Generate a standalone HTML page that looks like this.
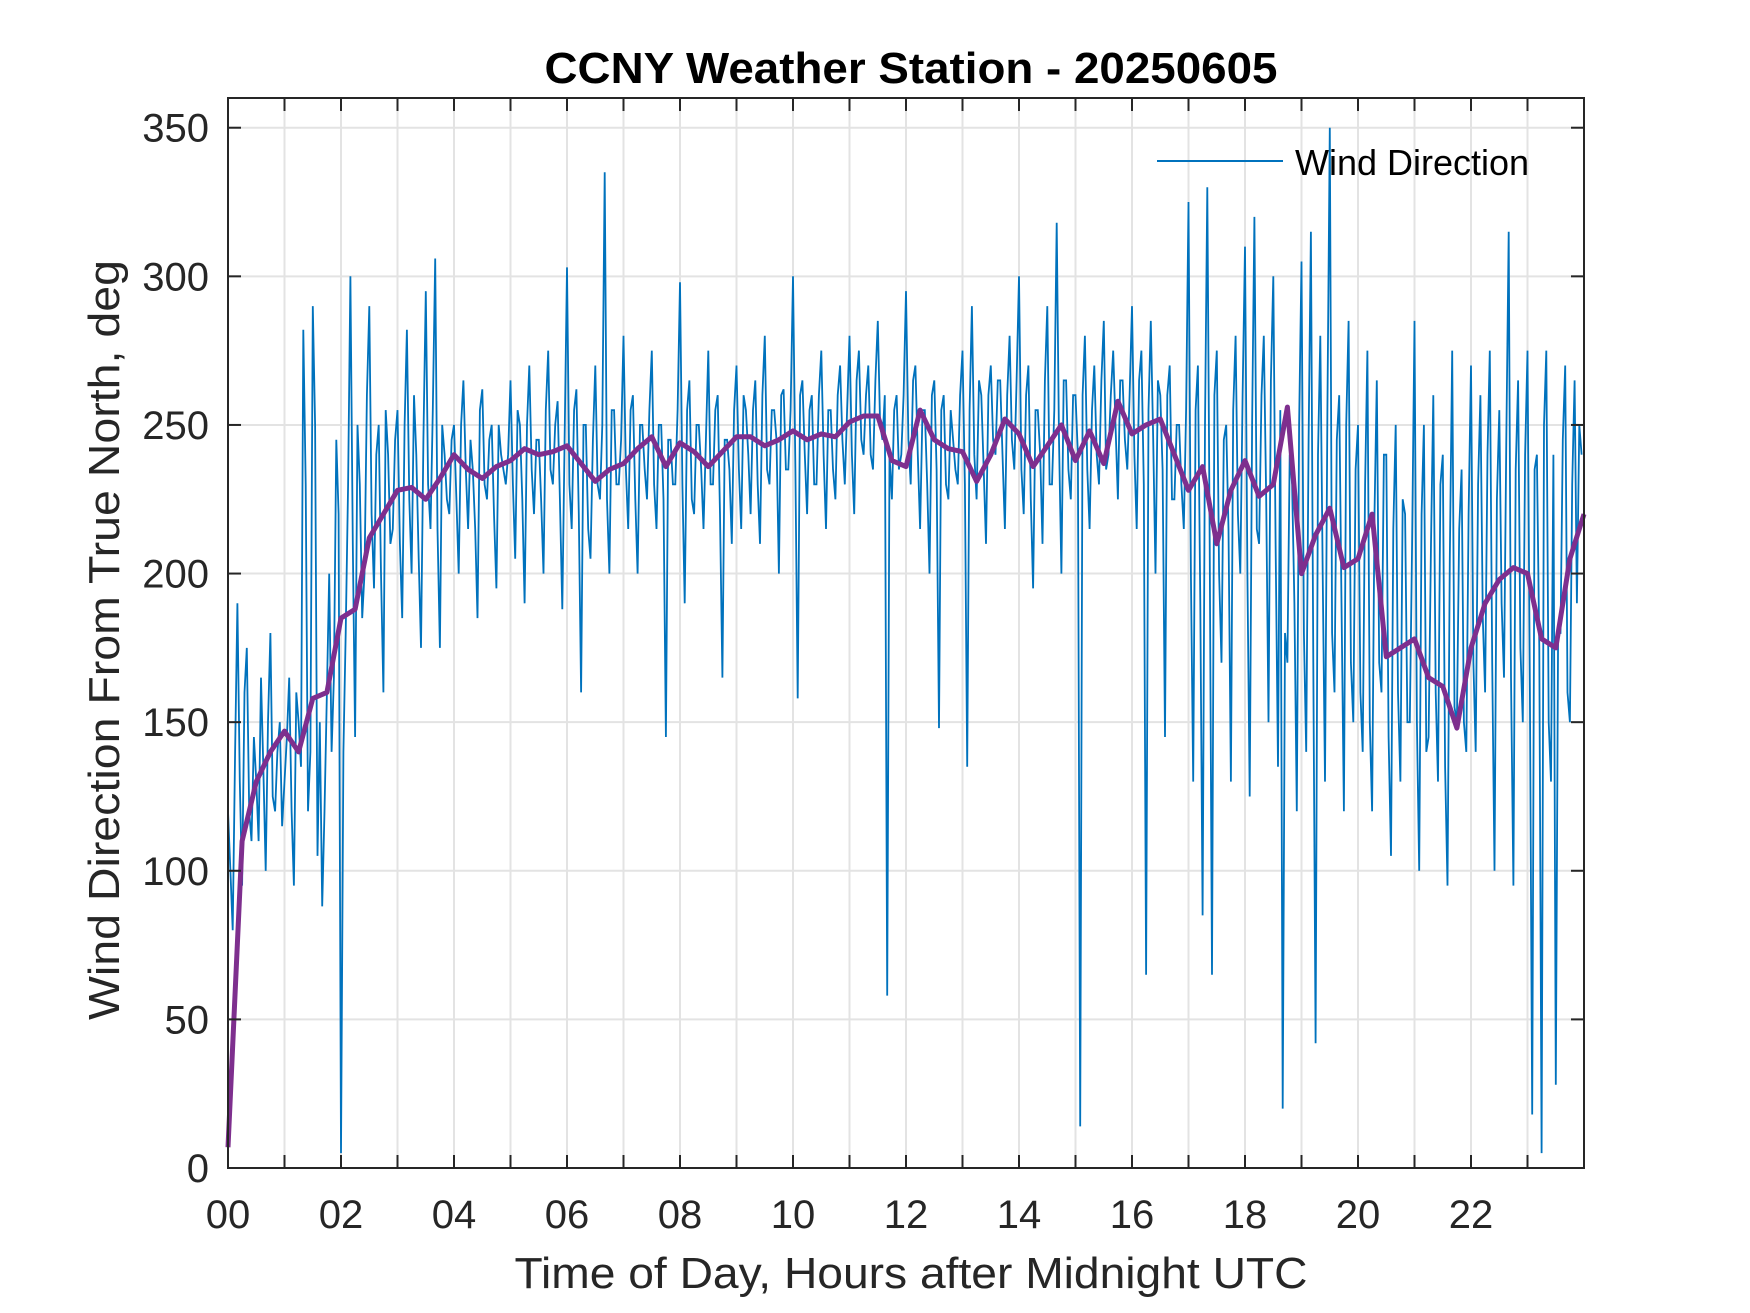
<!DOCTYPE html>
<html>
<head>
<meta charset="utf-8">
<style>
html,body{margin:0;padding:0;background:#fff;}
svg{display:block;font-family:"Liberation Sans",Arial,sans-serif;}
</style>
</head>
<body>
<svg id="chart" width="1750" height="1313" viewBox="0 0 1750 1313" xmlns="http://www.w3.org/2000/svg">
  <rect x="0" y="0" width="1750" height="1313" fill="#ffffff"/>
  <text x="911" y="83" text-anchor="middle" font-size="44" font-weight="bold" fill="#000" textLength="733" lengthAdjust="spacingAndGlyphs">CCNY Weather Station - 20250605</text>
  <g id="grid"></g>
  <g id="series"></g>
  <g id="axes"></g>
  <text x="911" y="1288" text-anchor="middle" font-size="44" fill="#262626" textLength="793" lengthAdjust="spacingAndGlyphs">Time of Day, Hours after Midnight UTC</text>
  <text transform="translate(119,640) rotate(-90)" text-anchor="middle" font-size="44" fill="#262626" textLength="760" lengthAdjust="spacingAndGlyphs">Wind Direction From True North, deg</text>
  <g>
    <line x1="1157" y1="161" x2="1283" y2="161" stroke="#0072BD" stroke-width="2"/>
    <text x="1295" y="175" font-size="36" fill="#000">Wind Direction</text>
  </g>
</svg>
<script>
// 5-minute samples of wind direction (deg), 12 per hour, on the 5-minute mark
const windDir = [
120,80,190,95,175,110,130,165,100,180,120,150,
130,165,95,150,282,120,290,105,88,160,140,245,
5,180,300,145,230,200,290,195,250,160,240,215,
255,185,282,200,240,175,295,215,306,175,240,220,
250,200,265,215,235,185,262,225,250,195,240,230,
265,205,250,190,270,220,245,200,275,230,258,188,
303,215,262,160,250,205,270,225,335,200,255,230,
280,215,260,200,250,225,275,215,250,145,245,230,
298,190,265,220,250,215,275,230,260,165,245,210,
270,215,255,220,265,210,280,230,255,200,262,235,
300,158,265,220,260,230,275,215,255,225,270,230,
280,220,275,240,270,235,285,245,58,225,260,240,
295,230,270,215,255,200,265,148,260,225,245,230,
275,135,290,225,260,210,270,240,265,215,280,235,
300,220,270,195,255,210,290,230,318,200,265,225,
260,14,280,215,270,230,285,240,275,225,265,235,
290,215,275,65,285,200,260,145,270,225,250,215,
325,130,270,85,330,65,275,170,250,130,280,200,
310,125,320,210,280,150,300,135,20,170,230,120,
305,140,315,42,280,130,350,160,260,120,285,150,
250,140,275,120,265,160,240,105,250,130,220,150,
285,100,250,145,260,130,240,95,275,150,235,140,
270,140,260,160,275,100,255,165,315,95,265,150,
275,18,240,5,275,130,28,180,270,150,265,250
];
// samples halfway between the 5-minute marks (deg)
const windDirMid = [
100,140,130,160,120,145,110,135,150,125,140,115,
145,120,160,135,230,140,250,150,120,200,165,220,
140,230,210,250,185,260,220,240,200,255,210,245,
210,250,225,260,205,245,230,255,215,250,225,245,
225,250,235,245,215,255,230,245,220,250,235,240,
230,255,225,250,235,245,225,255,235,250,225,245,
230,255,220,250,215,245,230,250,225,255,230,245,
235,255,225,250,235,255,230,250,225,245,230,255,
230,255,225,250,235,245,230,255,220,245,235,255,
235,260,240,255,230,260,235,255,245,260,235,255,
235,260,240,255,230,260,240,255,235,260,245,255,
240,265,245,260,240,265,250,260,240,255,235,260,
245,265,240,255,230,260,235,255,230,255,235,260,
230,255,240,265,235,260,245,265,240,260,245,265,
235,260,225,255,240,265,230,255,245,265,235,260,
240,260,235,255,240,265,235,260,250,265,245,260,
240,265,230,255,245,265,235,260,225,250,230,255,
200,255,190,250,210,260,200,245,215,255,220,260,
200,250,215,260,225,265,210,255,180,240,190,250,
180,245,170,240,200,255,180,245,190,250,170,235,
160,230,150,220,170,240,145,215,160,225,150,210,
150,220,140,210,160,230,135,205,155,215,150,220,
170,230,185,240,170,225,190,245,165,235,175,240,
160,235,175,250,150,240,180,245,160,230,190,240
];
const samplesPerHour = 12;
// 15-minute moving average (deg), 4 per hour, 0..24 h
const windAvg = [
7,110,130,140,
147,140,158,160,
185,188,212,220,
228,229,225,232,
240,235,232,236,
238,242,240,241,
243,237,231,235,
237,242,246,236,
244,241,236,241,
246,246,243,245,
248,245,247,246,
251,253,253,238,
236,255,245,242,
241,231,240,252,
247,236,243,250,
238,248,237,258,
247,250,252,240,
228,236,210,228,
238,226,230,256,
200,213,222,202,
205,220,172,175,
178,165,162,148,
175,190,198,202,
200,178,175,205,
220
];
const avgPerHour = 4;
const xTicks = [0,2,4,6,8,10,12,14,16,18,20,22];
const xTickLabels = ["00","02","04","06","08","10","12","14","16","18","20","22"];
const yTicks = [0,50,100,150,200,250,300,350];
const yTickLabels = ["0","50","100","150","200","250","300","350"];

const L=228,R=1584,T=98,B=1168;
const xMax=24,yMax=360;
const xs=h=>L+(h/xMax)*(R-L);
const ys=v=>B-(v/yMax)*(B-T);
const NS="http://www.w3.org/2000/svg";
const grid=document.getElementById('grid');
const axes=document.getElementById('axes');
const series=document.getElementById('series');

for(let h=1;h<24;h++){
  const g=document.createElementNS(NS,'line');
  g.setAttribute('x1',xs(h));g.setAttribute('x2',xs(h));
  g.setAttribute('y1',T);g.setAttribute('y2',B);
  g.setAttribute('stroke','#e3e3e3');g.setAttribute('stroke-width','2');
  
  
  grid.appendChild(g);
  for(const [y1,y2] of [[B,B-13],[T,T+13]]){
    const t=document.createElementNS(NS,'line');
    t.setAttribute('x1',xs(h));t.setAttribute('x2',xs(h));
    t.setAttribute('y1',y1);t.setAttribute('y2',y2);
    t.setAttribute('stroke','#262626');t.setAttribute('stroke-width','2');
    
    
    axes.appendChild(t);
  }
}
yTicks.forEach((v,i)=>{
  if(v>0){
    const g=document.createElementNS(NS,'line');
    g.setAttribute('x1',L);g.setAttribute('x2',R);
    g.setAttribute('y1',ys(v));g.setAttribute('y2',ys(v));
    g.setAttribute('stroke','#e3e3e3');g.setAttribute('stroke-width','2');
    
    
    grid.appendChild(g);
    for(const [x1,x2] of [[L,L+13],[R,R-13]]){
      const t=document.createElementNS(NS,'line');
      t.setAttribute('x1',x1);t.setAttribute('x2',x2);
      t.setAttribute('y1',ys(v));t.setAttribute('y2',ys(v));
      t.setAttribute('stroke','#262626');t.setAttribute('stroke-width','2');
      
      
      axes.appendChild(t);
    }
  }
  const tx=document.createElementNS(NS,'text');
  tx.setAttribute('x',209);tx.setAttribute('y',ys(v)+14);
  tx.setAttribute('text-anchor','end');tx.setAttribute('font-size','40');
  tx.setAttribute('fill','#262626');
  tx.textContent=yTickLabels[i];
  
  
  axes.appendChild(tx);
});
xTicks.forEach((h,i)=>{
  const tx=document.createElementNS(NS,'text');
  tx.setAttribute('x',xs(h));tx.setAttribute('y',1228);
  tx.setAttribute('text-anchor','middle');tx.setAttribute('font-size','40');
  tx.setAttribute('fill','#262626');
  tx.textContent=xTickLabels[i];
  
  
  axes.appendChild(tx);
});

const pts=[];
windDir.forEach((v,i)=>{
  pts.push(xs(i/samplesPerHour).toFixed(1)+','+ys(v).toFixed(1));
  if(i<windDirMid.length){
    pts.push(xs((i+0.5)/samplesPerHour).toFixed(1)+','+ys(windDirMid[i]).toFixed(1));
  }
});
const bl=document.createElementNS(NS,'polyline');
bl.setAttribute('points',pts.join(' '));bl.setAttribute('fill','none');
bl.setAttribute('stroke','#0072BD');bl.setAttribute('stroke-width','1.8');
bl.setAttribute('stroke-linejoin','miter');


series.appendChild(bl);

const ap=windAvg.map((v,i)=>xs(i/avgPerHour).toFixed(1)+','+ys(v).toFixed(1)).join(' ');
const al=document.createElementNS(NS,'polyline');
al.setAttribute('points',ap);al.setAttribute('fill','none');
al.setAttribute('stroke','#7E2F8E');al.setAttribute('stroke-width','5');
al.setAttribute('stroke-linejoin','round');


series.appendChild(al);

const box=document.createElementNS(NS,'rect');
box.setAttribute('x',L);box.setAttribute('y',T);
box.setAttribute('width',R-L);box.setAttribute('height',B-T);
box.setAttribute('fill','none');box.setAttribute('stroke','#262626');box.setAttribute('stroke-width','2');


axes.appendChild(box);
</script>
</body>
</html>
